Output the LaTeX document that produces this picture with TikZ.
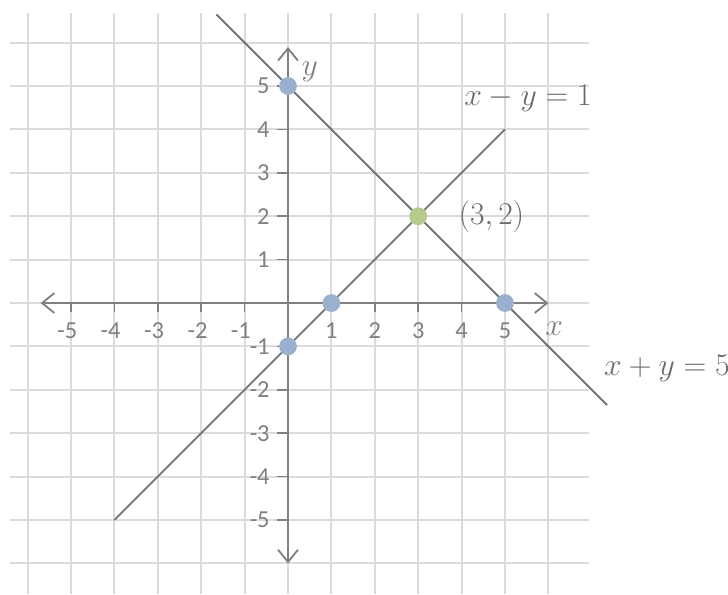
\documentclass[tikz,border=0pt]{standalone}
\usepackage{fontspec}
\setsansfont{Carlito}
\usetikzlibrary{positioning, arrows.meta}
\definecolor{dotblue}{RGB}{155,176,207}
\definecolor{dotgreen}{RGB}{183,201,140}

\begin{document}
\begin{tikzpicture}[
    gridline/.style={draw=black!14, line width=1.3pt},
    axis/.style={draw=black!50, line width=1.2pt, {Straight Barb[length=8pt, width=13pt]}-{Straight Barb[length=8pt, width=13pt]}},
    tickmark/.style={draw=black!50, line width=1pt},
    graphline/.style={draw=black!55, line width=1.2pt},
    num/.style={text=black!50, font=\sffamily\fontsize{16}{16}\selectfont},
    eqn/.style={text=black!58, font=\fontsize{20}{20}\selectfont},
    dot/.style={circle, fill=#1, minimum size=0.41cm, inner sep=0pt}
]
    \useasboundingbox[fill=white] (-6.636,-6.705) rectangle (10.138,6.982);

    % grid
    \foreach \i in {-6,...,6} {
        \draw[gridline] (\i,-6.705) -- (\i,6.68);
        \draw[gridline] (-6.41,\i) -- (6.94,\i);
    }

    % axes
    \coordinate (xl) at (-5.7,0);
    \coordinate (xr) at (6,0);
    \coordinate (yb) at (0,-6);
    \coordinate (yt) at (0,5.9);
    \draw[axis] (xl) -- (xr);
    \draw[axis] (yb) -- (yt);
    \node[eqn, text=black!50] (xlab) at (6.13,-0.6) {$x$};
    \node[eqn, text=black!50] (ylab) at (0.5,5.32) {$y$};

    \foreach \i in {1,...,5} {
        \draw[tickmark] (\i,0) -- (\i,-0.2);
        \draw[tickmark] (-\i,0) -- (-\i,-0.2);
        \draw[tickmark] (0,\i) -- (-0.25,\i);
        \draw[tickmark] (0,-\i) -- (-0.25,-\i);
        \node[num] (xp\i) at (\i,-0.64) {\i};
        \node[num] (xn\i) at (-\i,-0.64) {\llap{-}\i};
        \node[num, anchor=east] (yp\i) at (-0.3,\i) {\i};
        \node[num, anchor=east] (yn\i) at (-0.3,-\i) {-\i};
    }

    % lines
    \coordinate (a1) at (-1.65,6.65);
    \coordinate (a2) at (7.35,-2.35);
    \coordinate (b1) at (-4,-5);
    \coordinate (b2) at (5,4);
    \draw[graphline] (a1) -- (a2);
    \draw[graphline] (b1) -- (b2);

    % points
    \node[dot=dotblue] (p05) at (0,5) {};
    \node[dot=dotblue] (p50) at (5,0) {};
    \node[dot=dotblue] (p10) at (1,0) {};
    \node[dot=dotblue] (p0m) at (0,-1) {};
    \node[dot=dotgreen] (p32) at (3,2) {};

    \node[eqn] (pt) [right=0.6cm of p32] {$(3,2)$};
    \node[eqn] (eq1) at (5.53,4.72) {$x-y=1$};
    \node[eqn] (eq2) at (8.73,-1.5) {$x+y=5$};
\end{tikzpicture}
\end{document}
